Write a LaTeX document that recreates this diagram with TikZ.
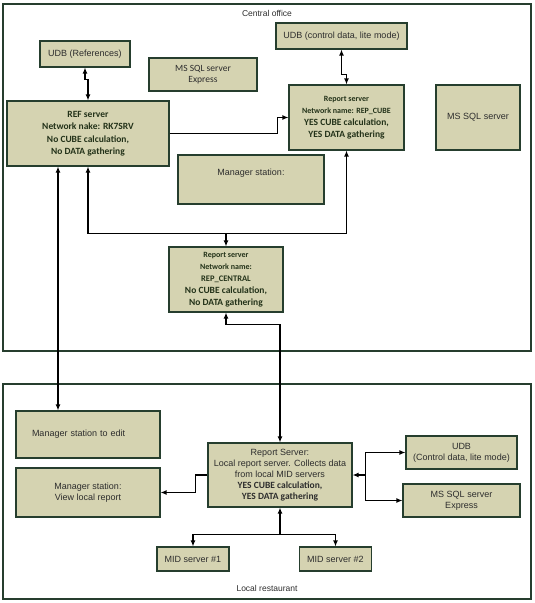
\documentclass[tikz,border=0pt]{standalone}
\usepackage{fontspec}
\setmainfont{Liberation Sans}
\newfontfamily\calf{Carlito}
\usetikzlibrary{positioning, arrows.meta}

\definecolor{boxfill}{RGB}{213,211,177}
\definecolor{boxedge}{RGB}{38,62,46}
\definecolor{srvtext}{RGB}{35,50,25}
\definecolor{plaintext}{RGB}{45,45,45}

\newcommand{\srvsmall}{\fontsize{8}{10.5}\selectfont}
\newcommand{\srvbig}{\fontsize{9.5}{12}\selectfont}

\tikzset{
  box/.style={draw=boxedge, fill=boxfill, line width=1.1pt, inner sep=1pt,
    align=center, font=\fontsize{9}{11}\selectfont, text=plaintext},
  srvbox/.style={box, font=\calf\bfseries\srvbig, text=srvtext},
  frame/.style={draw=boxedge, line width=1.2pt},
  arr/.style={-{Latex[length=6pt,width=5pt]}, line width=1.2pt},
  both/.style={{Latex[length=6pt,width=5pt]}-{Latex[length=6pt,width=5pt]}, line width=1.2pt}
}

\begin{document}
\begin{tikzpicture}[x=1pt, y=-1pt]
    \useasboundingbox (0,0) rectangle (535,603);
    % two sites
    \draw[frame] (3,4) rectangle (531,351);
    \node[font=\fontsize{8.5}{10}\selectfont, text=plaintext] (lblco) at (267,13) {Central office};
    \draw[frame] (3,384) rectangle (531,599);
    \node[font=\fontsize{8.5}{10}\selectfont, text=plaintext] (lbllr) at (267,588) {Local restaurant};

    % central office
    \node[box, minimum width=90pt, minimum height=26pt] (udbref) at (85,54) {UDB (References)};
    \node[box, font=\calf\fontsize{9.5}{11}\selectfont, minimum width=108pt, minimum height=33pt] (sqlx) at (203,74.5) {MS SQL server\\Express};
    \node[srvbox, minimum width=162pt, minimum height=65pt] (refsrv) at (88,133.5)
      {REF server\\Network nake: RK7SRV\\[1pt]No CUBE calculation,\\No DATA gathering};
    \node[box, minimum width=131pt, minimum height=26pt] (udbctl) at (341.5,36) {UDB (control data, lite mode)};
    \node[srvbox, minimum width=115pt, minimum height=65pt] (repcube) at (346.5,117.5)
      {{\srvsmall Report server}\\{\srvsmall Network name: REP\_CUBE}\\YES CUBE calculation,\\YES DATA gathering};
    \node[box, minimum width=84pt, minimum height=65pt] (sqlr) at (478,117.5) {MS SQL server};
    \node[box, minimum width=146pt, minimum height=49pt, text depth=14pt] (mgr) at (251,179.5) {Manager station:};
    \node[srvbox, minimum width=114pt, minimum height=65pt] (repcen) at (226,279.5)
      {{\srvsmall Report server}\\{\srvsmall Network name:}\\{\fontsize{8.5}{10.5}\selectfont REP\_CENTRAL}\\No CUBE calculation,\\No DATA gathering};

    % local restaurant
    \node[box, minimum width=144pt, minimum height=47pt, text width=128pt, align=left] (mgredit) at (88,434.5) {\hspace*{8pt}Manager station to edit};
    \node[box, minimum width=144pt, minimum height=49pt] (mgrview) at (88,492.5) {Manager station:\\View local report};
    \node[box, minimum width=144pt, minimum height=64pt] (locrep) at (280,475)
      {Report Server:\\Local report server. Collects data\\from local MID servers\\{\calf\bfseries\srvbig YES CUBE calculation,}\\{\calf\bfseries\srvbig YES DATA gathering}};
    \node[box, minimum width=111pt, minimum height=33pt] (udbloc) at (461.5,452.5) {UDB\\(Control data, lite mode)};
    \node[box, minimum width=117pt, minimum height=33pt] (sqlloc) at (461.5,500.5) {MS SQL server\\Express};
    \node[box, minimum width=72pt, minimum height=24pt] (mid1) at (193,559) {MID server \#1};
    \node[box, minimum width=72pt, minimum height=24pt] (mid2) at (335.5,559) {MID server \#2};

    % links in the office
    \draw[both] (udbref.south) -- ++(0,12) -| (refsrv.north);
    \draw[both] (udbctl.south) -- ++(0,25) -| (repcube.north);
    \draw[arr] (refsrv.east) -- ++(108,0) |- (repcube.west);
    \coordinate (jct) at ([yshift=13pt]repcen.north);
    \draw[both] (refsrv.south) |- (jct) -| (repcube.south);
    \draw[arr] (jct) -- (repcen.north);

    % links between sites
    \draw[both] ([xshift=-30pt]refsrv.south) -- ([xshift=-30pt]mgredit.north);
    \draw[both] (repcen.south) -- ++(0,12) -| (locrep.north);

    % links in the restaurant
    \draw[arr] (locrep.west) -- ++(-12,0) |- (mgrview.east);
    \coordinate (rj) at ([xshift=13pt]locrep.east);
    \draw[arr] (rj) -- (locrep.east);
    \draw[arr] (rj) |- (udbloc.west);
    \draw[arr] (rj) |- (sqlloc.west);
    \coordinate (bj) at ([yshift=-27pt]locrep.south);
    \draw[arr] (bj) -- (locrep.south);
    \draw[arr] (bj) -| (mid1.north);
    \draw[arr] (bj) -| (mid2.north);
\end{tikzpicture}
\end{document}
